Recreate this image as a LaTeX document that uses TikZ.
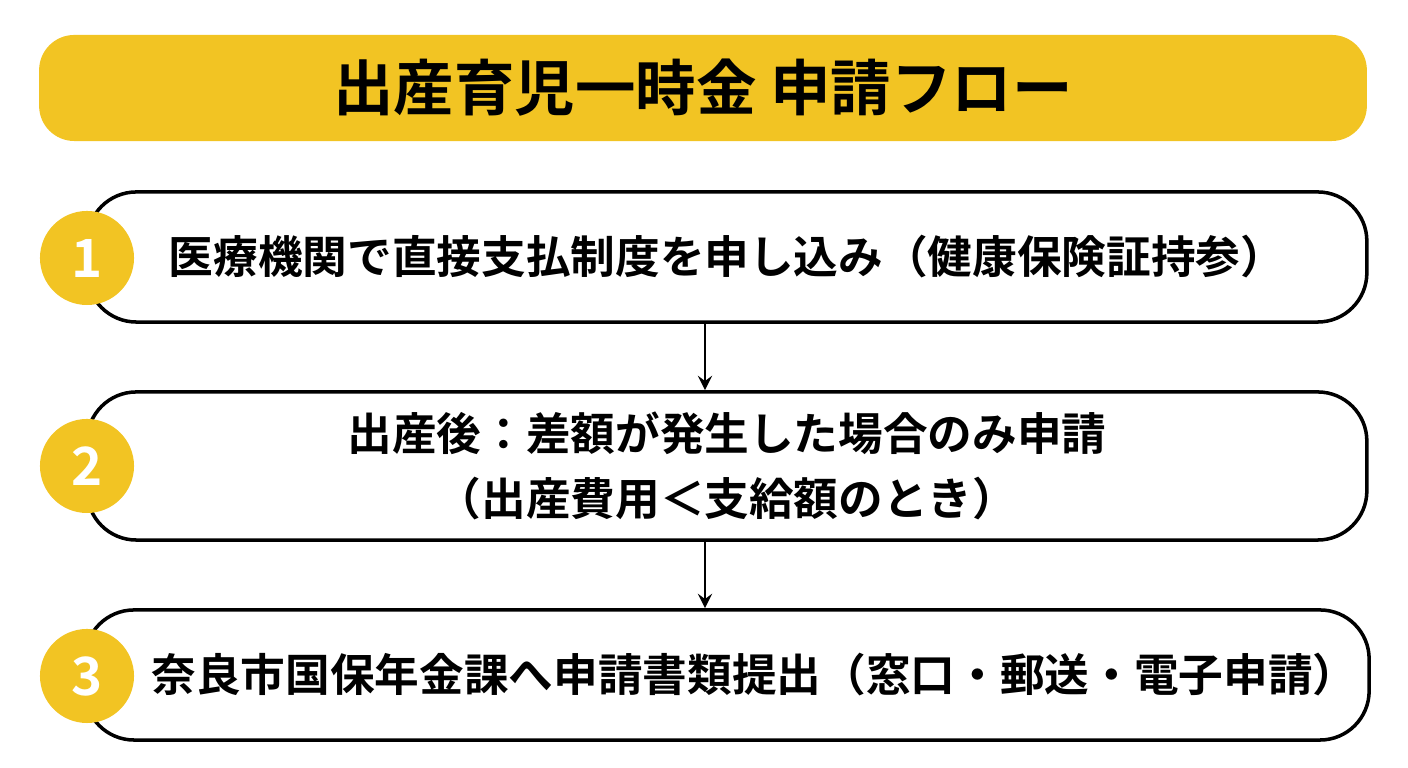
\documentclass[tikz,border=0pt]{standalone}
\usepackage{fontspec}
\setmainfont{Noto Sans CJK JP}[BoldFont={* Bold}]
\usetikzlibrary{positioning}
\definecolor{kiiro}{HTML}{F2C423}
\begin{document}
\begin{tikzpicture}[x=0.01cm,y=-0.01cm,font=\bfseries]
\tikzset{box/.style={draw, line width=1pt, rounded corners=14pt, minimum width=12.79cm, align=center, font=\fontsize{12.7}{18.5}\selectfont\bfseries}} % step box
\tikzset{num/.style={circle, fill=kiiro, minimum size=0.94cm, inner sep=0pt, text=white, font=\fontsize{15}{15}\selectfont\bfseries}}
\tikzset{arr/.style={->, >=stealth, line width=0.8pt}}
\useasboundingbox (0,0) rectangle (1408,768);

\node[fill=kiiro, rounded corners=10pt, minimum width=13.27cm, minimum height=1.06cm,
  font=\fontsize{17.2}{20}\selectfont\bfseries] (title) at (703,88) {出産育児一時金 申請フロー};

\node[box, minimum height=1.30cm] (s1) at (727,257) {医療機関で直接支払制度を申し込み（健康保険証持参）};
\node[box, minimum height=1.48cm] (s2) at (727,466) {出産後：差額が発生した場合のみ申請\\（出産費用＜支給額のとき）};
\node[box, minimum height=1.30cm] (s3) at (727,675) {\hspace*{0.55cm}奈良市国保年金課へ申請書類提出（窓口・郵送・電子申請）};

\node[num] (n1) at (87,258) {1};
\node[num] (n2) at (87,466) {2};
\node[num] (n3) at (87,676) {3};

\draw[arr] (s1.south -| 705,0) -- (s2.north -| 705,0);
\draw[arr] (s2.south -| 705,0) -- (s3.north -| 705,0);
\end{tikzpicture}
\end{document}
